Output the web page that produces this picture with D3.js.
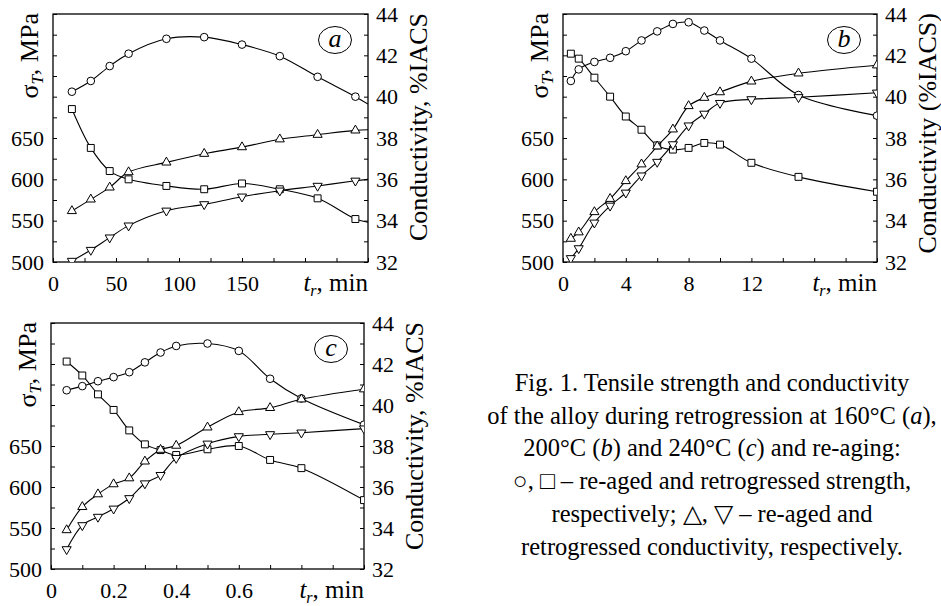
<!DOCTYPE html>
<html>
<head>
<meta charset="utf-8">
<script src="https://cdn.jsdelivr.net/npm/d3@7"></script>
<style>
  body { margin: 0; background: #fff; }
  svg { display: block; font-family: "Liberation Serif", "Times New Roman", serif; }
</style>
</head>
<body>
<div class="chart"></div>
<script>
// panel a: retrogression at 160 C, time in min
var aTime = [15, 30, 45, 60, 90, 120, 150, 180, 210, 240];
var aCircle = [706, 719, 737, 752, 770, 772, 763, 749, 724, 700];
var aSquare = [685, 638, 610, 600, 592, 588, 595, 588, 577, 552];
var aUp = [34.47, 35.03, 35.61, 36.35, 36.82, 37.24, 37.56, 37.94, 38.16, 38.37];
var aDown = [32.05, 32.58, 33.18, 33.76, 34.48, 34.79, 35.16, 35.45, 35.68, 35.93];
// where the a-lines leave the frame at t = 250 (circle, square, up, down)
var aTailTime = 250;
var aTail = [691, 548, 38.4, 36.0];

// panel b: 200 C
var bTime = [0.5, 1, 2, 3, 4, 5, 6, 7, 8, 9, 10, 12, 15, 20];
var bCircle = [719, 733, 742, 747, 755, 768, 779, 788, 790, 780, 768, 746, 702, 677];
var bSquare = [752, 746, 723, 700, 676, 660, 641, 636, 638, 644, 642, 620, 603, 585];
var bUp = [33.13, 33.44, 34.42, 35.06, 35.92, 36.73, 37.6, 38.42, 39.55, 39.95, 40.22, 40.74, 41.13, 41.52];
var bDown = [32.18, 32.66, 33.9, 34.72, 35.35, 36.18, 36.84, 37.69, 38.6, 39.17, 39.69, 39.87, 39.97, 40.19];

// panel c: 240 C
var cTime = [0.05, 0.1, 0.15, 0.2, 0.25, 0.3, 0.35, 0.4, 0.5, 0.6, 0.7, 0.8, 1.0];
var cCircle = [718, 723, 729, 734, 740, 752, 764, 772, 775, 766, 732, 708, 676];
var cSquare = [753, 736, 713, 694, 669, 652, 645, 639, 646, 650, 633, 623, 584];
var cUp = [33.9, 35.03, 35.65, 36.14, 36.43, 37.25, 37.82, 38.02, 38.91, 39.66, 39.86, 40.28, 40.77];
var cDown = [32.96, 34.13, 34.54, 34.94, 35.45, 36.17, 36.58, 37.41, 38.11, 38.47, 38.57, 38.65, 38.85];

// tick labels
var aXLabels = [0, 50, 100, 150];
var bXLabels = [0, 4, 8, 12];
var cXLabels = [0, 0.2, 0.4, 0.6];
var strengthLabels = [500, 550, 600, 650];
var condLabels = [32, 34, 36, 38, 40, 42, 44];

var W = 941, H = 606;
var FONT = '"Liberation Serif", "Times New Roman", serif';
var svg = d3.select('.chart').append('svg')
  .attr('width', W)
  .attr('height', H);

var panels = [
  { id: 'a', left: 53, right: 368, top: 14, bottom: 262, xMax: 250, xStep: 25, xLabels: aXLabels,
    time: aTime, series: [aCircle, aSquare, aUp, aDown], tailTime: aTailTime, tail: aTail,
    rightTitle: 'Conductivity, %IACS' },
  { id: 'b', left: 563, right: 877, top: 14, bottom: 262, xMax: 20, xStep: 2, xLabels: bXLabels,
    time: bTime, series: [bCircle, bSquare, bUp, bDown],
    rightTitle: 'Conductivity (%IACS)' },
  { id: 'c', left: 51, right: 364, top: 323, bottom: 569, xMax: 1.0, xStep: 0.1, xLabels: cXLabels,
    time: cTime, series: [cCircle, cSquare, cUp, cDown],
    rightTitle: 'Conductivity, %IACS' }
];

// circle, square -> strength axis; up/down triangles -> conductivity axis
var kinds = [
  { sym: d3.symbolCircle, size: 46, rot: 0, axis: 'L' },
  { sym: d3.symbolSquare, size: 48, rot: 0, axis: 'L' },
  { sym: d3.symbolTriangle, size: 36, rot: 0, axis: 'R' },
  { sym: d3.symbolTriangle, size: 36, rot: 180, axis: 'R' }
];

function labelFor(list, d) {
  var hit = list.find(l => Math.abs(l - d) < 1e-9);
  return hit === undefined ? '' : String(hit);
}

panels.forEach(function (p) {
  var g = svg.append('g').attr('class', 'panel-' + p.id);

  var x = d3.scaleLinear().domain([0, p.xMax]).range([p.left, p.right]);
  var yL = d3.scaleLinear().domain([500, 800]).range([p.bottom, p.top]);
  var yR = d3.scaleLinear().domain([32, 44]).range([p.bottom, p.top]);

  var xTicks = d3.range(0, p.xMax + p.xStep / 2, p.xStep);
  var lTicks = d3.range(500, 801, 25);
  var rTicks = d3.range(32, 44.5, 1);

  // axes, ticks pointing inward
  var xAxis = g.append('g')
    .attr('transform', `translate(0, ${p.bottom})`)
    .call(d3.axisBottom(x).tickValues(xTicks).tickSize(-4).tickPadding(13)
      .tickFormat(d => labelFor(p.xLabels, d)));
  var lAxis = g.append('g')
    .attr('transform', `translate(${p.left}, 0)`)
    .call(d3.axisLeft(yL).tickValues(lTicks).tickSize(-4).tickPadding(9)
      .tickFormat(d => labelFor(strengthLabels, d)));
  var rAxis = g.append('g')
    .attr('transform', `translate(${p.right}, 0)`)
    .call(d3.axisRight(yR).tickValues(rTicks).tickSize(-4).tickPadding(8)
      .tickFormat(d => labelFor(condLabels, d)));

  [xAxis, lAxis, rAxis].forEach(function (ax) {
    ax.attr('font-family', FONT).attr('font-size', 22);
    ax.select('.domain').remove();
    ax.selectAll('line').attr('stroke', '#000').attr('stroke-width', 1);
    ax.selectAll('text').attr('fill', '#000');
  });

  // frame
  g.append('rect')
    .attr('x', p.left).attr('y', p.top)
    .attr('width', p.right - p.left).attr('height', p.bottom - p.top)
    .attr('fill', 'none').attr('stroke', '#000').attr('stroke-width', 1.3);

  // clip to the frame so edge markers are cut like the original
  g.append('clipPath').attr('id', 'clip-' + p.id)
    .append('rect')
      .attr('x', p.left).attr('y', p.top)
      .attr('width', p.right - p.left).attr('height', p.bottom - p.top);

  var plot = g.append('g').attr('clip-path', `url(#clip-${p.id})`);

  p.series.forEach(function (vals, i) {
    var k = kinds[i];
    var y = k.axis === 'L' ? yL : yR;
    var pts = p.time.map((t, j) => [t, vals[j]]);
    var linePts = p.tail ? pts.concat([[p.tailTime, p.tail[i]]]) : pts;

    var line = d3.line()
      .x(d => x(d[0]))
      .y(d => y(d[1]))
      .curve(d3.curveCatmullRom.alpha(0.5));

    plot.append('path')
      .datum(linePts)
      .attr('d', line)
      .attr('fill', 'none')
      .attr('stroke', '#000')
      .attr('stroke-width', 1.1);

    plot.selectAll('.m' + i)
      .data(pts)
      .enter()
      .append('path')
        .attr('class', 'm' + i)
        .attr('d', d3.symbol().type(k.sym).size(k.size))
        .attr('transform', d => `translate(${x(d[0])}, ${y(d[1])}) rotate(${k.rot})`)
        .attr('fill', '#fff')
        .attr('stroke', '#000')
        .attr('stroke-width', 1);
  });

  // x label: t_r, min
  var xl = g.append('text')
    .attr('x', p.right)
    .attr('y', p.bottom + 29)
    .attr('text-anchor', 'end')
    .attr('font-family', FONT)
    .style('font-size', '25px');
  xl.append('tspan').style('font-style', 'italic').text('t');
  xl.append('tspan').style('font-style', 'italic').style('font-size', '16px')
    .attr('dy', 5).text('r');
  xl.append('tspan').attr('dy', -5).text(', min');

  // left title: sigma_T, MPa
  var lt = g.append('text')
    .attr('transform', `translate(${p.left - 15}, ${p.top - 1}) rotate(-90)`)
    .attr('text-anchor', 'end')
    .attr('font-family', FONT)
    .style('font-size', '26px');
  lt.append('tspan').text('σ');
  lt.append('tspan').style('font-style', 'italic').style('font-size', '17px')
    .attr('dy', 5).text('T');
  lt.append('tspan').attr('dy', -5).text(', MPa');

  // right title
  g.append('text')
    .attr('transform', `translate(${p.right + 59}, ${p.top - 1}) rotate(-90)`)
    .attr('text-anchor', 'end')
    .attr('font-family', FONT)
    .style('font-size', '26px')
    .text(p.rightTitle);

  // panel letter in an ellipse
  g.append('ellipse')
    .attr('cx', p.right - 33).attr('cy', p.top + 26)
    .attr('rx', 16.5).attr('ry', 13.5)
    .attr('fill', 'none').attr('stroke', '#000').attr('stroke-width', 1);
  g.append('text')
    .attr('x', p.right - 33).attr('y', p.top + 33)
    .attr('text-anchor', 'middle')
    .attr('font-family', FONT)
    .style('font-size', '26px')
    .style('font-style', 'italic')
    .text(p.id);
});

// caption
var caption = [
  [['Fig. 1. Tensile strength and conductivity']],
  [['of the alloy during retrogression at 160°C ('], ['a', 1], ['),']],
  [['200°C ('], ['b', 1], [') and 240°C ('], ['c', 1], [') and re-aging:']],
  [['○, □ – re-aged and retrogressed strength,']],
  [['respectively; △, ▽ – re-aged and']],
  [['retrogressed conductivity, respectively.']]
];

var cap = svg.append('g').attr('class', 'caption').attr('font-family', FONT);
caption.forEach(function (parts, i) {
  var t = cap.append('text')
    .attr('x', 712)
    .attr('y', 391 + i * 32.7)
    .attr('text-anchor', 'middle')
    .style('font-size', '24.5px');
  parts.forEach(function (pt) {
    t.append('tspan')
      .style('font-style', pt[1] ? 'italic' : 'normal')
      .text(pt[0]);
  });
});
</script>
</body>
</html>
